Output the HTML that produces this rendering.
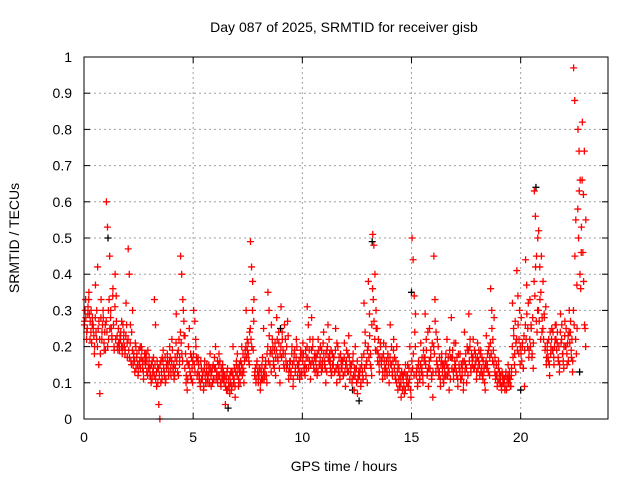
<!DOCTYPE html>
<html><head><meta charset="utf-8"><style>
html,body{margin:0;padding:0;background:#fff}
svg{display:block;font-family:"Liberation Sans",sans-serif}
</style></head><body>
<svg id="chart" width="640" height="480">
<text x="344" y="32" text-anchor="middle" font-size="14">Day 087 of 2025, SRMTID for receiver gisb</text>
<text x="344" y="471" text-anchor="middle" font-size="14">GPS time / hours</text>
<text transform="translate(19,238) rotate(-90)" text-anchor="middle" font-size="14">SRMTID / TECUs</text>
<g id="grid"></g>
<g id="ticks"></g>
<g id="black"></g>
<g id="red"></g>
<rect x="84" y="57" width="524" height="362" fill="none" stroke="#000" stroke-width="1"/>
</svg>
<script>
const xTicks=[0,5,10,15,20];
const yTicks=[0,0.1,0.2,0.3,0.4,0.5,0.6,0.7,0.8,0.9,1];
const yTickLabels=["0","0.1","0.2","0.3","0.4","0.5","0.6","0.7","0.8","0.9","1"];
const binHours=0.2;
const redBins=[
[27,33,24,29],[35,22,30,26],[25,18,37,22],[42,15,7,28],[24,30,19,26],
[60,53,22,45],[30,23,36,20],[40,34,20,25],[19,22,27,20],[24,18,32,21],
[47,40,26,15],[30,17,13,20],[18,12,15,20],[20,16,11,18],[17,13,19,15],
[12,10,16,14],[33,26,9,14],[4,0,16,11],[19,13,10,15],[16,12,20,14],
[22,14,11,17],[29,18,12,15],[45,40,33,27],[23,10,8,15],[25,12,17,10],
[30,27,20,16],[17,11,9,14],[12,8,16,10],[15,10,13,18],[9,14,11,17],
[20,12,10,15],[16,9,13,11],[12,4,8,14],[10,7,13,9],[20,11,6,15],
[18,9,13,16],[20,14,10,17],[30,22,18,15],[49,42,38,27],[13,10,16,12],
[14,8,11,17],[25,12,15,10],[35,30,18,13],[22,15,19,12],[28,17,21,10],
[31,24,18,14],[22,14,27,11],[16,12,20,9],[18,13,22,15],[15,11,19,13],
[21,14,12,17],[31,26,16,11],[28,20,14,18],[17,12,22,15],[20,13,16,24],
[15,10,19,26],[22,16,12,18],[17,13,25,10],[20,14,11,16],[16,12,21,9],
[19,13,23,11],[15,10,18,8],[20,14,7,12],[13,9,17,11],[32,24,15,10],
[38,29,18,12],[51,48,40,30],[25,18,13,21],[16,11,21,14],[20,13,17,10],
[26,15,12,19],[17,11,20,8],[14,9,6,12],[12,7,15,10],[15,10,20,6],
[50,44,34,20],[13,9,16,11],[21,14,10,17],[29,22,13,9],[25,17,11,6],
[45,33,24,15],[20,13,9,16],[15,10,12,18],[22,14,8,17],[28,17,11,14],
[21,12,9,15],[18,11,14,8],[24,15,10,19],[29,20,13,17],[22,14,18,11],
[21,16,12,19],[17,11,14,8],[23,15,19,12],[36,30,22,15],[17,12,9,14],
[13,10,8,12],[11,8,13,10],[15,11,9,12],[32,25,18,13],[41,34,22,15],
[28,20,14,9],[44,37,25,17],[33,26,18,14],[63,56,45,30],[52,42,35,24],
[38,29,20,15],[21,16,12,18],[25,19,15,22],[26,21,16,13],[29,22,18,14],
[27,20,15,23],[30,24,17,13],[97,88,55,37],[80,74,66,46],[82,62,26,20]
];
const redBinsExtra=[
[26,30,28,22,25,31],[33,29,27,24,21,28],[26,23,20,28,24,30],[20,25,27,22,18,33],[22,26,28,21,24,19],
[27,24,20,30,33,25],[28,25,22,34,26,19],[31,22,27,23,19,21],[21,23,24,20,18,26],[22,20,19,23,26,17],
[22,19,17,21,16,24],[19,15,18,16,21,14],[17,15,13,19,16,14],[17,19,14,13,16,18],[15,18,16,12,14,17],
[14,12,15,11,13,17],[12,15,11,13,16,10],[14,12,15,10,13,17],[16,14,12,17,11,14],[18,15,13,16,17,12],
[16,19,13,15,12,14],[21,16,13,19,22,17],[24,21,18,16,30,23],[14,18,12,16,11,20],[15,13,18,11,14,16],
[18,15,13,22,17,12],[13,15,12,10,16,11],[11,13,9,14,12,10],[13,11,12,15,10,14],[12,13,10,15,11,14],
[14,11,13,16,12,18],[12,10,14,11,15,13],[10,12,9,11,13,8],[11,9,12,10,8,13],[12,10,14,9,13,16],
[12,14,11,15,10,13],[15,12,18,13,16,19],[20,17,19,21,16,24],[25,22,20,30,19,33],[12,14,11,15,13,10],
[12,14,10,13,15,11],[13,11,14,16,12,18],[20,16,23,15,19,26],[18,20,16,14,21,17],[19,22,16,24,14,18],
[20,17,22,19,15,26],[18,16,20,15,23,13],[14,16,13,18,15,11],[16,19,14,17,20,12],[14,16,13,17,12,18],
[16,18,13,15,19,14],[20,17,14,19,22,15],[19,16,22,15,17,13],[16,14,18,13,19,15],[17,15,19,14,21,18],
[16,14,18,13,20,17],[16,18,14,19,13,15],[15,17,13,19,14,21],[15,13,17,12,18,14],[14,16,12,17,13,15],
[16,14,18,13,17,15],[13,15,11,16,12,14],[12,14,10,16,11,13],[12,14,10,15,13,11],[18,14,21,12,16,19],
[20,17,23,15,14,26],[36,33,27,22,19,25],[19,16,22,15,17,20],[15,17,13,18,16,12],[14,16,12,18,15,13],
[17,15,20,13,16,22],[14,12,16,10,13,15],[11,9,12,10,13,8],[11,9,13,8,12,10],[12,9,14,11,8,13],
[16,14,18,12,24,29],[12,14,10,15,13,11],[15,13,17,12,19,16],[17,15,19,12,24,14],[16,14,19,12,21,13],
[20,18,27,13,16,22],[14,12,17,11,15,18],[13,11,15,14,16,12],[15,12,17,13,19,11],[17,14,19,13,21,16],
[15,13,17,11,18,14],[13,11,15,12,16,10],[16,13,18,14,20,12],[19,16,22,14,18,15],[17,14,19,15,16,13],
[17,14,19,15,18,13],[14,12,16,13,10,15],[16,14,18,13,20,17],[21,18,25,16,19,28],[13,11,15,12,10,16],
[11,10,12,9,13,10],[10,11,9,12,8,11],[12,10,13,11,9,14],[20,17,23,15,27,21],[22,19,26,18,30,20],
[18,16,21,14,23,19],[26,22,29,20,32,19],[22,20,25,17,28,21],[38,34,42,27,24,50],[30,27,33,22,45,28],
[25,22,28,19,31,17],[19,17,22,15,24,20],[22,19,24,17,20,26],[22,19,24,17,20,15],[24,21,26,18,16,20],
[23,20,25,18,21,16],[24,21,27,19,22,16],[30,26,45,22,18,25],[58,50,63,40,36,53],[66,46,38,74,25,55]
];
const blackTimes=[6.6,12.3,12.6,13.2,15.0,20.0,20.7,22.7,1.1,9.0];
const blackValues=[0.03,0.08,0.05,0.49,0.35,0.08,0.64,0.13,0.5,0.25];

const NS="http://www.w3.org/2000/svg";
const X0=84,X1=608,Y0=419,Y1=57,XMAX=24;
function xs(t){return X0+(t/XMAX)*(X1-X0);}
function ys(v){return Y0-v*(Y0-Y1);}
function mk(tag,attrs,parent){const e=document.createElementNS(NS,tag);for(const k in attrs)e.setAttribute(k,attrs[k]);parent.appendChild(e);return e;}
const grid=document.getElementById('grid'),ticks=document.getElementById('ticks');
xTicks.forEach(t=>{
  const x=xs(t);
  if(t>0){const g=mk('line',{x1:x,x2:x,y1:Y1,y2:Y0,stroke:'#a0a0a0','stroke-dasharray':'2,3'},grid);
  
  }
  mk('line',{x1:x,x2:x,y1:Y0,y2:Y0-6,stroke:'#000'},ticks);
  mk('line',{x1:x,x2:x,y1:Y1,y2:Y1+6,stroke:'#000'},ticks);
  const l=mk('text',{x:x,y:Y0+23,'text-anchor':'middle','font-size':'14'},ticks);
  l.textContent=String(t);
  
  
});
yTicks.forEach((v,i)=>{
  const y=ys(v);
  if(v>0&&v<1){const g=mk('line',{x1:X0,x2:X1,y1:y,y2:y,stroke:'#a0a0a0','stroke-dasharray':'2,3'},grid);
  
  }
  mk('line',{x1:X0,x2:X0+6,y1:y,y2:y,stroke:'#000'},ticks);
  mk('line',{x1:X1,x2:X1-6,y1:y,y2:y,stroke:'#000'},ticks);
  const l=mk('text',{x:X0-12,y:y+5,'text-anchor':'end','font-size':'14'},ticks);
  l.textContent=yTickLabels[i];
  
  
});
function cross(t,v,color,parent,name){
  const x=xs(t),y=ys(v);
  const p=mk('path',{d:`M${x-3.5},${y}H${x+3.5}M${x},${y-3.5}V${y+3.5}`,stroke:color,'stroke-width':'1.3',fill:'none'},parent);
  
  
}
const blk=document.getElementById('black');
blackTimes.forEach((t,i)=>cross(t,blackValues[i],'#000',blk,'black-point'));
const red=document.getElementById('red');
function drawBins(bins){
  bins.forEach((bin,i)=>{
    bin.forEach((v,j)=>{
      const t=(i+(j+0.5)/bin.length)*binHours;
      cross(t,v/100,'#ff0000',red,'red-point');
    });
  });
}
drawBins(redBins);
drawBins(redBinsExtra);
</script>
</body></html>
